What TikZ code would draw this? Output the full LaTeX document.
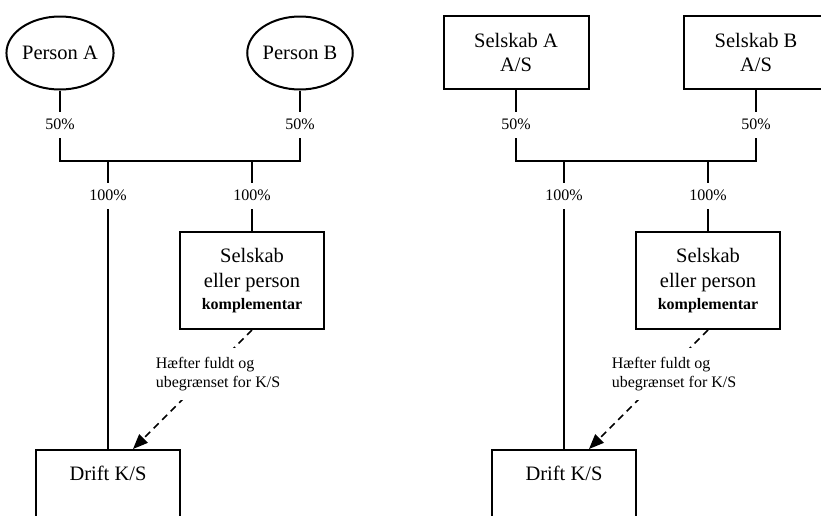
\documentclass[tikz,border=0pt]{standalone}
\usepackage{fontspec}
\setmainfont{Liberation Serif}
\usepackage{tikz}
\usetikzlibrary{shapes}
\usetikzlibrary{positioning,calc,arrows.meta}

\newcommand{\bigtxt}{\fontsize{20.5}{24.6}\selectfont}
\newcommand{\smalltxt}{\fontsize{16}{19}\selectfont}

\tikzset{
  owner/.style={draw, line width=2pt, ellipse, minimum width=97pt, minimum height=73pt, inner sep=0pt, font=\bigtxt},
  firm/.style={draw, line width=2pt, rectangle, minimum width=145pt, minimum height=73pt, inner sep=0pt, align=center, font=\bigtxt},
  kompbox/.style={draw, line width=2pt, rectangle, minimum width=144pt, minimum height=97pt, inner sep=0pt, align=center, font=\bigtxt},
  driftbox/.style={draw, line width=2pt, rectangle, anchor=north, minimum width=144pt, inner sep=0pt, text height=30pt, text depth=67pt, font=\bigtxt},
  pct/.style={fill=white, inner sep=1pt, minimum height=26pt, font=\smalltxt},
  link/.style={line width=2pt},
  note/.style={fill=white, align=left, inner xsep=0pt, inner ysep=9pt, font=\smalltxt},
  liability/.style={line width=1.5pt, dash pattern=on 7pt off 5pt, -{Triangle[length=15pt,width=12pt]}}
}

\begin{document}
\begin{tikzpicture}[x=1pt, y=-1pt]
\useasboundingbox (0,0) rectangle (821,515);
\clip (0,0) rectangle (821,515);

% personligt ejet K/S
\node[owner] (pA) at (60,53) {Person A};
\node[owner] (pB) at (300,53) {Person B};
\node[kompbox] (kL) at (252,280.5) {Selskab\\eller person\\[-2.6pt]{\smalltxt\bfseries komplementar}};
\node[driftbox] (dL) at (108,449) {Drift K/S};

\coordinate (cAL) at (60,161);
\coordinate (cBL) at (300,161);
\coordinate (j1L) at (108,161);
\coordinate (j2L) at (252,161);

\draw[link] (pA.south) -- (cAL) -- (cBL) -- (pB.south);
\draw[link, line width=1.5pt] (j1L) -- (dL.north);
\draw[link] (j2L) -- (kL.north);
\draw[liability] (kL.south) -- ($(dL.north)+(25,0)$);

\node[pct] (p50AL) at (60,124.5) {50\%};
\node[pct] (p50BL) at (300,124.5) {50\%};
\node[pct] (p100AL) at (108,195.5) {100\%};
\node[pct] (p100BL) at (252,195.5) {100\%};
\node[note] (hL) at (218,374) {Hæfter fuldt og\\ubegrænset for K/S};

% selskabsejet K/S
\node[firm] (sA) at (516,52.5) {Selskab A\\A/S};
\node[firm] (sB) at (756,52.5) {Selskab B\\A/S};
\node[kompbox] (kR) at (708,280.5) {Selskab\\eller person\\[-2.6pt]{\smalltxt\bfseries komplementar}};
\node[driftbox] (dR) at (564,449) {Drift K/S};

\coordinate (cAR) at (516,161);
\coordinate (cBR) at (756,161);
\coordinate (j1R) at (564,161);
\coordinate (j2R) at (708,161);

\draw[link] (sA.south) -- (cAR) -- (cBR) -- (sB.south);
\draw[link, line width=1.5pt] (j1R) -- (dR.north);
\draw[link] (j2R) -- (kR.north);
\draw[liability] (kR.south) -- ($(dR.north)+(25,0)$);

\node[pct] (p50AR) at (516,124.5) {50\%};
\node[pct] (p50BR) at (756,124.5) {50\%};
\node[pct] (p100AR) at (564,195.5) {100\%};
\node[pct] (p100BR) at (708,195.5) {100\%};
\node[note] (hR) at (674,374) {Hæfter fuldt og\\ubegrænset for K/S};
\end{tikzpicture}
\end{document}
